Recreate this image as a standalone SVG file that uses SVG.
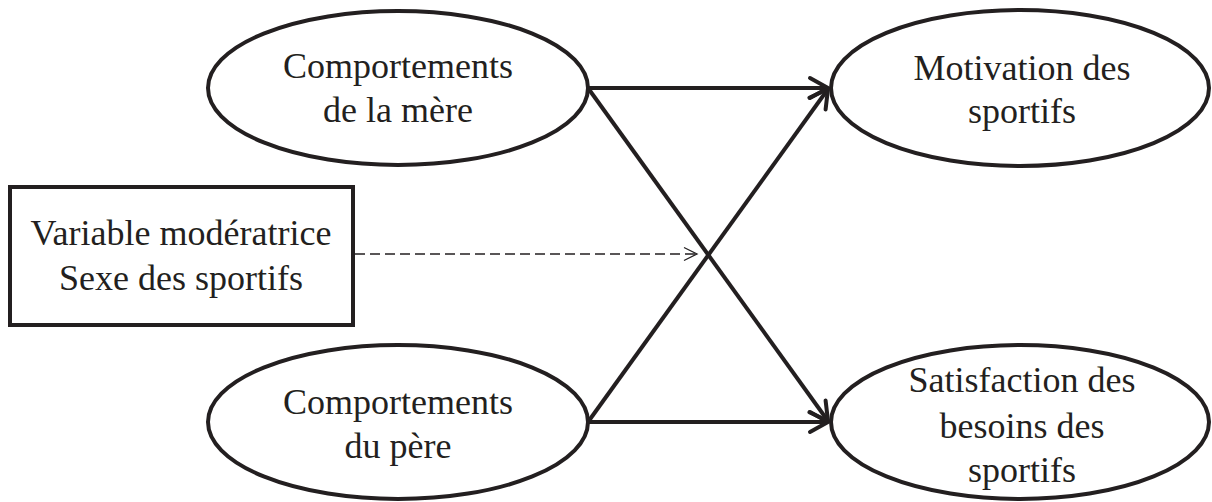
<svg xmlns="http://www.w3.org/2000/svg" width="1212" height="502" viewBox="0 0 1212 502">
<style>
.node{fill:#fff;stroke:#231f20;stroke-width:4}
.lbl{font-family:"Liberation Serif","Times New Roman",serif;font-size:36px;fill:#231f20;text-anchor:middle}
.edge{stroke:#231f20;stroke-width:4;fill:none}
.dash{stroke:#231f20;stroke-width:1.3;fill:none;stroke-dasharray:10 5}
</style>
<defs>
<marker id="ah" markerUnits="userSpaceOnUse" viewBox="-22 -14 26 28" markerWidth="26" markerHeight="28" refX="0" refY="0" orient="auto">
<path d="M-18,-10 L0,0 L-18,10" fill="none" stroke="#231f20" stroke-width="4" stroke-linecap="round" stroke-linejoin="round"/>
</marker>
<marker id="ahd" markerUnits="userSpaceOnUse" viewBox="-16 -10 18 20" markerWidth="18" markerHeight="20" refX="0" refY="0" orient="auto">
<path d="M-13,-6.5 L0,0 L-13,6.5" fill="none" stroke="#231f20" stroke-width="1.3"/>
</marker>
</defs>
<g id="connectors">
<line class="edge" x1="588" y1="88" x2="828" y2="88" marker-end="url(#ah)"/>
<line class="edge" x1="588" y1="422" x2="828" y2="422" marker-end="url(#ah)"/>
<line class="edge" x1="588" y1="88" x2="828" y2="421" marker-end="url(#ah)"/>
<line class="edge" x1="588" y1="422" x2="828" y2="89" marker-end="url(#ah)"/>
<line class="dash" x1="355" y1="254" x2="697" y2="254" marker-end="url(#ahd)"/>
</g>
<g id="mere">
<ellipse class="node" cx="398" cy="88" rx="190" ry="77"/>
<text class="lbl" x="398" y="78">Comportements</text>
<text class="lbl" x="398" y="122">de la mère</text>
</g>
<g id="pere">
<ellipse class="node" cx="398" cy="422" rx="190" ry="77"/>
<text class="lbl" x="398" y="414">Comportements</text>
<text class="lbl" x="398" y="458">du père</text>
</g>
<g id="motivation">
<ellipse class="node" cx="1020" cy="88" rx="189" ry="78"/>
<text class="lbl" x="1022" y="80">Motivation des</text>
<text class="lbl" x="1022" y="123">sportifs</text>
</g>
<g id="satisfaction">
<ellipse class="node" cx="1020" cy="422" rx="189" ry="77"/>
<text class="lbl" x="1022" y="392">Satisfaction des</text>
<text class="lbl" x="1022" y="438">besoins des</text>
<text class="lbl" x="1022" y="482">sportifs</text>
</g>
<g id="moderateur">
<rect class="node" x="10" y="187" width="343" height="138"/>
<text class="lbl" x="181" y="245">Variable modératrice</text>
<text class="lbl" x="181" y="290">Sexe des sportifs</text>
</g>
</svg>
